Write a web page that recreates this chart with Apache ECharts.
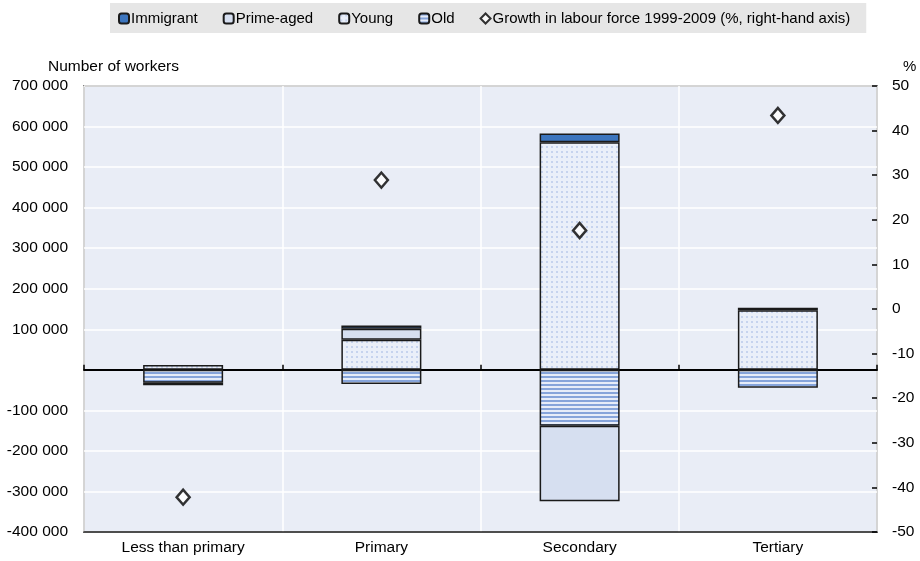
<!DOCTYPE html>
<html><head><meta charset="utf-8">
<script src="https://cdn.jsdelivr.net/npm/echarts@6/dist/echarts.min.js"></script>
<style>html,body{margin:0;padding:0;background:#fff}#c{width:920px;height:561px}</style>
</head><body><div id="c"></div>
<script>
var categories = ['Less than primary', 'Primary', 'Secondary', 'Tertiary'];
var young = [12000, 74000, 561000, 147000];
var prime = ['-', 27000, -186000, '-'];
var old = [-32000, -35000, -138000, -44000];
var immigrant = [-6000, 8000, 22000, 6000];
var growth = [-42.2, 28.9, 17.6, 43.4];
var leftTicks = { min: -400000, max: 700000, interval: 100000 };
var rightTicks = { min: -50, max: 50, interval: 10 };

function makeDots() {
  var c = document.createElement('canvas'); c.width = 5; c.height = 5;
  var g = c.getContext('2d');
  g.fillStyle = '#eaeff9'; g.fillRect(0, 0, 5, 5);
  g.fillStyle = '#c6d3ee'; g.fillRect(1, 1, 2, 2);
  return c;
}
function makeStripes() {
  var c = document.createElement('canvas'); c.width = 4; c.height = 4;
  var g = c.getContext('2d');
  g.fillStyle = '#e6ecf8'; g.fillRect(0, 0, 4, 4);
  g.fillStyle = '#86a4da'; g.fillRect(0, 0, 4, 2);
  return c;
}
var FONT = "'Liberation Sans', Arial, sans-serif";
var border = { borderColor: '#1a1a1a', borderWidth: 1.5 };
function fmt(v) {
  if (v === 0) return '';
  var s = Math.abs(v).toString().replace(/\B(?=(\d{3})+(?!\d))/g, ' ');
  return (v < 0 ? '-' : '') + s;
}
var chart = echarts.init(document.getElementById('c'));
chart.setOption({
  animation: false,
  textStyle: { fontFamily: FONT },
  legend: {
    top: 3, left: 110,
    data: ['Immigrant', 'Prime-aged', 'Young', 'Old', 'Growth in labour force 1999-2009 (%, right-hand axis)'],
    backgroundColor: '#e6e6e6',
    padding: [8, 16, 7, 8],
    itemWidth: 10, itemHeight: 10, itemGap: 25,
    textStyle: { fontSize: 15, color: '#000', fontFamily: FONT, padding: [0, 0, 0, -3] }
  },
  grid: { left: 84, right: 43, top: 86, bottom: 29, show: true, backgroundColor: '#e9edf6', borderColor: '#222', borderWidth: 1.5 },
  xAxis: [{
    type: 'category', data: categories, position: 'bottom',
    axisLine: { onZero: false, lineStyle: { color: '#222', width: 1.5 } },
    axisTick: { show: false },
    axisLabel: { color: '#000', fontSize: 15.5, margin: 8, fontFamily: FONT },
    splitLine: { show: true, lineStyle: { color: '#ffffff', width: 1.5 } }
  }, {
    type: 'category', data: categories, position: 'bottom',
    axisLine: { onZero: true, onZeroAxisIndex: 0, lineStyle: { color: '#000', width: 2 } },
    axisTick: { show: true, inside: true, length: 5, lineStyle: { color: '#000', width: 1.5 } },
    axisLabel: { show: false },
    splitLine: { show: false }
  }],
  yAxis: [{
    type: 'value', min: leftTicks.min, max: leftTicks.max, interval: leftTicks.interval,
    name: 'Number of workers', nameLocation: 'end', nameGap: 11,
    nameTextStyle: { color: '#000', fontSize: 15.5, align: 'left', padding: [0, 0, 0, -36], fontFamily: FONT },
    axisLine: { show: false }, axisTick: { show: false },
    axisLabel: { color: '#000', fontSize: 15.5, margin: 16, formatter: fmt, fontFamily: FONT },
    splitLine: { show: true, lineStyle: { color: '#ffffff', width: 1.5 } }
  }, {
    type: 'value', min: rightTicks.min, max: rightTicks.max, interval: rightTicks.interval,
    position: 'right', name: '%', nameLocation: 'end', nameGap: 12,
    nameTextStyle: { color: '#000', fontSize: 15, align: 'left', padding: [0, 0, 0, 26], fontFamily: FONT },
    axisLine: { show: false },
    axisTick: { show: true, inside: true, length: 5, lineStyle: { color: '#000', width: 1.5 } },
    axisLabel: { color: '#000', fontSize: 15.5, margin: 15, fontFamily: FONT },
    splitLine: { show: false }
  }],
  series: [
    { name: 'Young', type: 'bar', stack: 'a', barWidth: 80, data: young,
      itemStyle: Object.assign({ color: { image: makeDots(), repeat: 'repeat' } }, border) },
    { name: 'Old', type: 'bar', stack: 'a', barWidth: 80, data: old,
      itemStyle: Object.assign({ color: { image: makeStripes(), repeat: 'repeat' } }, border) },
    { name: 'Prime-aged', type: 'bar', stack: 'a', barWidth: 80, data: prime,
      itemStyle: Object.assign({ color: '#d6dff0' }, border) },
    { name: 'Immigrant', type: 'bar', stack: 'a', barWidth: 80, data: immigrant,
      itemStyle: Object.assign({ color: '#3c75be' }, border) },
    { name: 'Growth in labour force 1999-2009 (%, right-hand axis)', type: 'scatter', yAxisIndex: 1,
      symbol: 'diamond', symbolSize: [13, 15], data: growth, z: 10,
      itemStyle: { color: '#ffffff', borderColor: '#000', borderWidth: 2.5 } }
  ]
});
</script></body></html>
